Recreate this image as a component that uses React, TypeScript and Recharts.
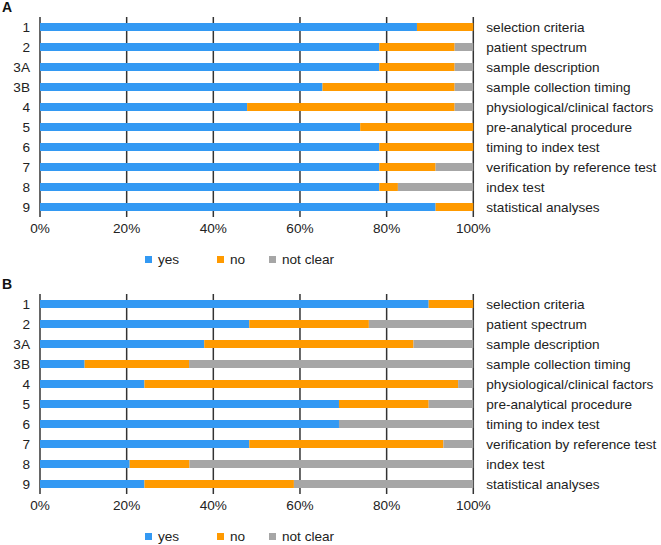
import React from 'react';
import { BarChart, Bar, XAxis, YAxis, CartesianGrid, Legend } from 'recharts';

const items = ['1', '2', '3A', '3B', '4', '5', '6', '7', '8', '9'];
const criteria = [
  'selection criteria',
  'patient spectrum',
  'sample description',
  'sample collection timing',
  'physiological/clinical factors',
  'pre-analytical procedure',
  'timing to index test',
  'verification by reference test',
  'index test',
  'statistical analyses',
];
const xTicks = [0, 20, 40, 60, 80, 100];
const seriesNames = ['yes', 'no', 'not clear'];

// Panel A (percent)
const aYes = [87.0, 78.3, 78.3, 65.2, 47.8, 73.9, 78.3, 78.3, 78.3, 91.3];
const aNo = [13.0, 17.4, 17.4, 30.5, 47.9, 26.1, 21.7, 13.0, 4.3, 8.7];
const aNotClear = [0, 4.3, 4.3, 4.3, 4.3, 0, 0, 8.7, 17.4, 0];

// Panel B (percent)
const bYes = [89.7, 48.3, 37.9, 10.3, 24.1, 69.0, 69.0, 48.3, 20.7, 24.1];
const bNo = [10.3, 27.6, 48.3, 24.1, 72.4, 20.7, 0, 44.8, 13.8, 34.5];
const bNotClear = [0, 24.1, 13.8, 65.6, 3.5, 10.3, 31.0, 6.9, 65.5, 41.4];

const FONT = '"Liberation Sans", Arial, Helvetica, sans-serif';
const COLORS = ['#3399f3', '#ff9a00', '#a6a6a6'];
const TEXT = '#222';

function buildRows(yes: number[], no: number[], nc: number[]) {
  return items.map((id, i) => ({ id, label: criteria[i], yes: yes[i], no: no[i], nc: nc[i] }));
}

const legendX = [145, 217, 269];

function LegendContent() {
  return (
    <div style={{ position: 'relative', width: 661, height: 16, fontFamily: FONT, fontSize: 13.6, color: TEXT }}>
      {seriesNames.map((name, i) => (
        <div key={name} style={{ position: 'absolute', left: legendX[i], top: 0, height: 16, display: 'flex', alignItems: 'center', whiteSpace: 'nowrap' }}>
          <span style={{ display: 'inline-block', width: 7, height: 7, background: COLORS[i], marginRight: 6 }} />
          <span>{name}</span>
        </div>
      ))}
    </div>
  );
}

function Panel({ letter, rows, top }: { letter: string; rows: any[]; top: number }) {
  const tickStyle = { fill: TEXT, fontSize: 13.6, fontFamily: FONT };
  return (
    <div style={{ position: 'absolute', left: 0, top, width: 661, height: 268 }}>
      <BarChart
        width={661}
        height={268}
        data={rows}
        layout="vertical"
        margin={{ top: 17, right: 0, bottom: 21, left: 0 }}
        barCategoryGap={0}
      >
        <CartesianGrid horizontal={false} vertical stroke="#333" strokeWidth={1.5} />
        <XAxis
          type="number"
          domain={[0, 100]}
          ticks={xTicks}
          tickFormatter={(v: number) => `${v}%`}
          axisLine={false}
          tickLine={false}
          tickSize={0}
          tickMargin={6}
          height={30}
          tick={tickStyle}
          interval={0}
        />
        <YAxis
          type="category"
          dataKey="id"
          width={40}
          axisLine={false}
          tickLine={false}
          tickSize={0}
          tickMargin={10}
          tick={tickStyle}
          interval={0}
        />
        <YAxis
          yAxisId="r"
          orientation="right"
          type="category"
          dataKey="label"
          width={187.7}
          axisLine={false}
          tickLine={false}
          tickSize={0}
          tickMargin={13}
          tick={tickStyle}
          interval={0}
        />
        <Bar dataKey="yes" name={seriesNames[0]} stackId="s" fill={COLORS[0]} barSize={8} isAnimationActive={false} />
        <Bar dataKey="no" name={seriesNames[1]} stackId="s" fill={COLORS[1]} barSize={8} isAnimationActive={false} />
        <Bar dataKey="nc" name={seriesNames[2]} stackId="s" fill={COLORS[2]} barSize={8} isAnimationActive={false} />
        <Legend
          verticalAlign="middle"
          align="center"
          content={() => <LegendContent />}
          wrapperStyle={{ top: 251, left: 0, width: 661 }}
        />
      </BarChart>
      <div style={{ position: 'absolute', left: 2, top: 0, fontFamily: FONT, fontWeight: 'bold', fontSize: 14, color: '#111', lineHeight: '15px' }}>
        {letter}
      </div>
    </div>
  );
}

export default function App() {
  const rowsA = buildRows(aYes, aNo, aNotClear);
  const rowsB = buildRows(bYes, bNo, bNotClear);
  return (
    <div style={{ position: 'absolute', left: 0, top: 0, width: 661, height: 545, background: '#fff', overflow: 'hidden' }}>
      <Panel letter="A" rows={rowsA} top={0} />
      <Panel letter="B" rows={rowsB} top={277} />
    </div>
  );
}
